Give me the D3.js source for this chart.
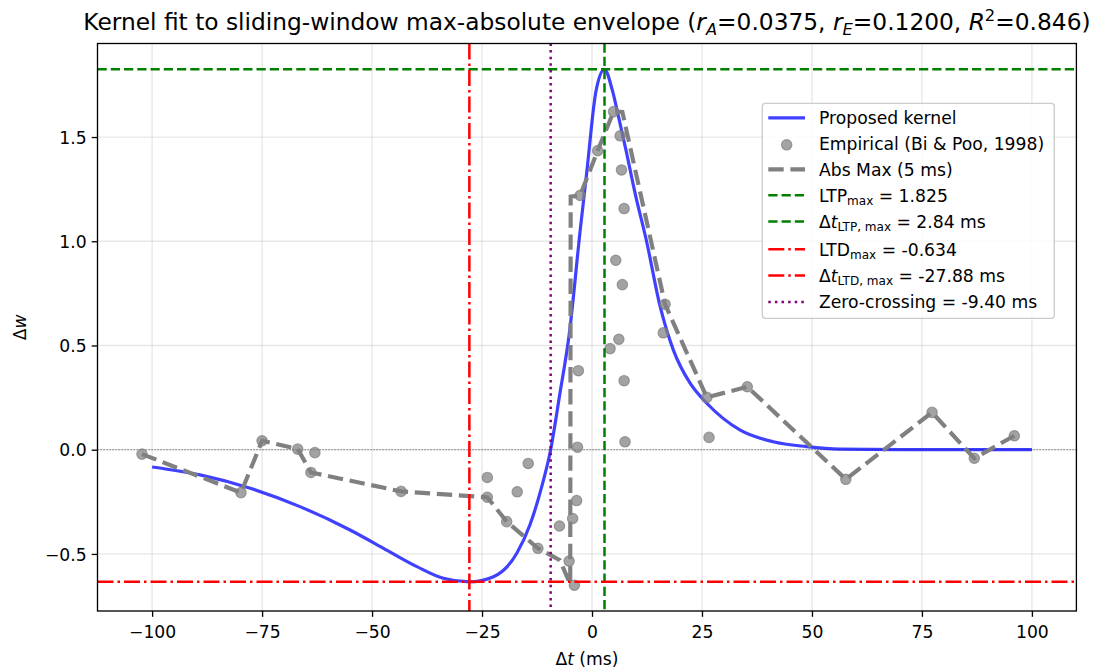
<!DOCTYPE html>
<html><head><meta charset="utf-8">
<script src="https://cdn.jsdelivr.net/npm/d3@7"></script>
<style>
body{margin:0;background:#fff}
svg{display:block}
text{font-family:"DejaVu Sans",sans-serif;fill:#000}
</style>
</head><body>
<svg id="chart" width="1097" height="669"></svg>
<script>
// ---- data ----
const empT = [-102.3,-79.8,-75.0,-66.9,-63.0,-63.9,-43.4,-23.8,-23.8,-17.0,-14.5,-19.4,-12.3,-7.4,-5.2,-4.0,-4.4,-3.5,-3.3,-3.1,-2.7,1.3,4.9,6.4,6.7,7.3,5.4,6.9,6.1,4.1,7.3,7.5,16.2,16.6,26.1,26.6,35.3,57.7,77.3,86.9,96.0];
const empW = [-0.021,-0.206,0.043,0.003,-0.014,-0.109,-0.200,-0.133,-0.228,-0.202,-0.066,-0.345,-0.473,-0.366,-0.534,-0.650,-0.330,-0.244,0.012,0.379,1.220,1.435,1.622,1.506,1.342,1.157,0.909,0.792,0.530,0.485,0.331,0.038,0.561,0.698,0.251,0.059,0.302,-0.142,0.179,-0.041,0.067];
const envT = [-102.3,-79.8,-75.0,-66.9,-63.9,-43.4,-23.8,-19.4,-12.3,-7.3,-4.95,-4.85,-2.7,1.3,4.9,6.9,16.6,26.1,35.3,57.7,77.3,86.9,96.0];
const envW = [-0.021,-0.206,0.043,0.003,-0.109,-0.200,-0.228,-0.345,-0.473,-0.530,-0.645,1.214,1.220,1.435,1.622,1.620,0.698,0.251,0.302,-0.142,0.179,-0.041,0.067];
const kernelT = [-100,-89.1,-77.7,-66.4,-55.0,-47.4,-39.8,-33.8,-27.88,-22.4,-17.1,-14.1,-11.4,-9.4,-7.3,-5.2,-2.7,-1.2,0.9,2.84,4.6,6.0,7.7,9.8,12.4,15.5,18.5,22.3,26.1,33.6,41.2,48.8,56.4,70,85,100];
const kernelW = [-0.083,-0.121,-0.185,-0.273,-0.385,-0.473,-0.561,-0.617,-0.634,-0.609,-0.497,-0.36,-0.175,0,0.27,0.55,1.05,1.33,1.72,1.825,1.726,1.60,1.44,1.23,1.0,0.686,0.478,0.319,0.223,0.095,0.038,0.015,0.003,0.0005,0,0];
const xTicks = [-100,-75,-50,-25,0,25,50,75,100];
const yTicks = [-0.5,0.0,0.5,1.0,1.5];
const ltpMax = 1.825, ltpT = 2.84, ltdMax = -0.634, ltdT = -27.88, zeroT = -9.40;
const titleSegs = [
  {t:"Kernel fit to sliding-window max-absolute envelope ("},
  {t:"r",i:1},{t:"A",i:1,sub:1},{t:"=0.0375, "},
  {t:"r",i:1},{t:"E",i:1,sub:1},{t:"=0.1200, "},
  {t:"R",i:1},{t:"2",sup:1},{t:"=0.846)"}
];
const legendLabels = [
  [{t:"Proposed kernel"}],
  [{t:"Empirical (Bi & Poo, 1998)"}],
  [{t:"Abs Max (5 ms)"}],
  [{t:"LTP"},{t:"max",sub:1},{t:" = 1.825"}],
  [{t:"Δ"},{t:"t",i:1},{t:"LTP, max",sub:1},{t:" = 2.84 ms"}],
  [{t:"LTD"},{t:"max",sub:1},{t:" = -0.634"}],
  [{t:"Δ"},{t:"t",i:1},{t:"LTD, max",sub:1},{t:" = -27.88 ms"}],
  [{t:"Zero-crossing = -9.40 ms"}]
];

// ---- layout ----
const L = 97.5, R = 1076.4, T = 43.5, B = 611;
const FS = 17.2, TFS = 23.3;
const svg = d3.select("#chart");

const allT = empT.concat(kernelT), allW = empW.concat(kernelW);
const [tx0, tx1] = d3.extent(allT), [wy0, wy1] = d3.extent(allW);
const mx = (tx1 - tx0) * 0.05, my = (wy1 - wy0) * 0.05;
const x = d3.scaleLinear().domain([tx0 - mx, tx1 + mx]).range([L, R]);
const y = d3.scaleLinear().domain([wy0 - my, wy1 + my]).range([B, T]);

const fmtMinus = s => s.replace("-", "\u2212");

// grid
const g = svg.append("g");
g.selectAll(".gx").data(xTicks).enter().append("line")
  .attr("x1", d => x(d)).attr("x2", d => x(d)).attr("y1", T).attr("y2", B)
  .attr("stroke", "#b0b0b0").attr("stroke-opacity", 0.3).attr("stroke-width", 1.33);
g.selectAll(".gy").data(yTicks).enter().append("line")
  .attr("y1", d => y(d)).attr("y2", d => y(d)).attr("x1", L).attr("x2", R)
  .attr("stroke", "#b0b0b0").attr("stroke-opacity", 0.3).attr("stroke-width", 1.33);

svg.append("defs").append("clipPath").attr("id", "clip")
  .append("rect").attr("x", L).attr("y", T).attr("width", R - L).attr("height", B - T);
const p = svg.append("g").attr("clip-path", "url(#clip)");

// zero line
p.append("line").attr("x1", L).attr("x2", R).attr("y1", y(0)).attr("y2", y(0))
  .attr("stroke", "#000").attr("stroke-opacity", 0.6).attr("stroke-width", 1)
  .attr("stroke-dasharray", "1.2,1.8");

// kernel
const kData = kernelT.map((t, i) => [t, kernelW[i]]);
p.append("path").datum(kData)
  .attr("d", d3.line().x(d => x(d[0])).y(d => y(d[1])).curve(d3.curveMonotoneX))
  .attr("fill", "none").attr("stroke", "#0000ff").attr("stroke-opacity", 0.75)
  .attr("stroke-width", 3.2);

// scatter
p.selectAll(".pt").data(empT.map((t, i) => [t, empW[i]])).enter().append("circle")
  .attr("cx", d => x(d[0])).attr("cy", d => y(d[1])).attr("r", 5.2)
  .attr("fill", "#808080").attr("fill-opacity", 0.72)
  .attr("stroke", "#808080").attr("stroke-opacity", 0.72).attr("stroke-width", 1.2);

// envelope
p.append("path").datum(envT.map((t, i) => [t, envW[i]]))
  .attr("d", d3.line().x(d => x(d[0])).y(d => y(d[1])))
  .attr("fill", "none").attr("stroke", "#808080").attr("stroke-width", 4.17)
  .attr("stroke-dasharray", "15.4,6.7");

// reference lines
const dashG = "9.25,4", dashR = "16,4,2.5,4", dotP = "2.5,4.1";
p.append("line").attr("x1", L).attr("x2", R).attr("y1", y(ltpMax)).attr("y2", y(ltpMax))
  .attr("stroke", "#008000").attr("stroke-width", 2.5).attr("stroke-dasharray", dashG);
p.append("line").attr("x1", x(ltpT)).attr("x2", x(ltpT)).attr("y1", T).attr("y2", B)
  .attr("stroke", "#008000").attr("stroke-width", 2.5).attr("stroke-dasharray", dashG);
p.append("line").attr("x1", L).attr("x2", R).attr("y1", y(ltdMax)).attr("y2", y(ltdMax))
  .attr("stroke", "#ff0000").attr("stroke-width", 2.5).attr("stroke-dasharray", dashR);
p.append("line").attr("x1", x(ltdT)).attr("x2", x(ltdT)).attr("y1", T).attr("y2", B)
  .attr("stroke", "#ff0000").attr("stroke-width", 2.5).attr("stroke-dasharray", dashR);
p.append("line").attr("x1", x(zeroT)).attr("x2", x(zeroT)).attr("y1", T).attr("y2", B)
  .attr("stroke", "#800080").attr("stroke-width", 2.5).attr("stroke-dasharray", dotP);

// axes
const xAxis = d3.axisBottom(x).tickValues(xTicks).tickSizeOuter(0).tickSize(5.8).tickPadding(5)
  .tickFormat(d => fmtMinus(String(d)));
const yAxis = d3.axisLeft(y).tickValues(yTicks).tickSizeOuter(0).tickSize(5.8).tickPadding(5)
  .tickFormat(d => fmtMinus(d3.format(".1f")(d)));
const gx = svg.append("g").attr("transform", `translate(0,${B})`).call(xAxis);
const gy = svg.append("g").attr("transform", `translate(${L},0)`).call(yAxis);
[gx, gy].forEach(a => {
  a.select(".domain").remove();
  a.selectAll(".tick line").attr("stroke", "#000").attr("stroke-width", 1.33);
  a.selectAll(".tick text").attr("font-size", FS).attr("font-family", "DejaVu Sans").attr("fill", "#000");
});
gx.selectAll(".tick text").attr("dy", "0.93em");
gy.selectAll(".tick text").attr("dy", "0.36em");

// frame
svg.append("rect").attr("x", L).attr("y", T).attr("width", R - L).attr("height", B - T)
  .attr("fill", "none").attr("stroke", "#000").attr("stroke-width", 1.33);

// rich-text helper
function rich(sel, segs, size) {
  segs.forEach((s, i) => {
    const ts = sel.append("tspan").text(s.t);
    if (s.i) ts.attr("font-style", "italic");
    if (s.sub || s.sup) ts.attr("font-size", size * 0.7);
    const prev = i > 0 ? segs[i - 1] : null;
    let dy = 0;
    if (prev && prev.sub) dy -= size * 0.2;
    if (prev && prev.sup) dy += size * 0.38;
    if (s.sub) dy += size * 0.2;
    if (s.sup) dy -= size * 0.38;
    if (dy) ts.attr("dy", dy);
  });
}

// title
const title = svg.append("text").attr("x", (L + R) / 2).attr("y", 30)
  .attr("text-anchor", "middle").attr("font-size", TFS);
rich(title, titleSegs, TFS);

// axis labels
const xl = svg.append("text").attr("x", (L + R) / 2).attr("y", 665)
  .attr("text-anchor", "middle").attr("font-size", FS);
rich(xl, [{t:"Δ"},{t:"t",i:1},{t:" (ms)"}], FS);
const yl = svg.append("text").attr("transform", `translate(26,${(T + B) / 2}) rotate(-90)`)
  .attr("text-anchor", "middle").attr("font-size", FS);
rich(yl, [{t:"Δ"},{t:"w",i:1}], FS);

// legend
const lg = svg.append("g");
lg.append("rect").attr("x", 762.3).attr("y", 103.3).attr("width", 292).attr("height", 215)
  .attr("rx", 3).attr("fill", "#fff").attr("fill-opacity", 0.8)
  .attr("stroke", "#cccccc").attr("stroke-width", 1.33);
const baselines = [124, 150, 175.5, 201.5, 227.7, 255.5, 281.7, 308.3];
const hx0 = 768.3, hx1 = 805, tx = 819;
const handles = [
  {c:"#0000ff", o:0.75, w:3.2, d:null},
  {dot:true},
  {c:"#808080", o:1, w:4.17, d:"15.4,6.7"},
  {c:"#008000", o:1, w:2.5, d:dashG},
  {c:"#008000", o:1, w:2.5, d:dashG},
  {c:"#ff0000", o:1, w:2.5, d:dashR},
  {c:"#ff0000", o:1, w:2.5, d:dashR},
  {c:"#800080", o:1, w:2.5, d:dotP}
];
legendLabels.forEach((segs, i) => {
  const by = baselines[i], hy = by - 6.2;
  const h = handles[i];
  if (h.dot) {
    lg.append("circle").attr("cx", (hx0 + hx1) / 2).attr("cy", hy + 1).attr("r", 5.2)
      .attr("fill", "#808080").attr("fill-opacity", 0.72)
      .attr("stroke", "#808080").attr("stroke-opacity", 0.72).attr("stroke-width", 1.2);
  } else {
    const ln = lg.append("line").attr("x1", hx0).attr("x2", hx1).attr("y1", hy).attr("y2", hy)
      .attr("stroke", h.c).attr("stroke-opacity", h.o).attr("stroke-width", h.w);
    if (h.d) ln.attr("stroke-dasharray", h.d);
  }
  const t = lg.append("text").attr("x", tx).attr("y", by).attr("font-size", FS);
  rich(t, segs, FS);
});
</script>
</body></html>
